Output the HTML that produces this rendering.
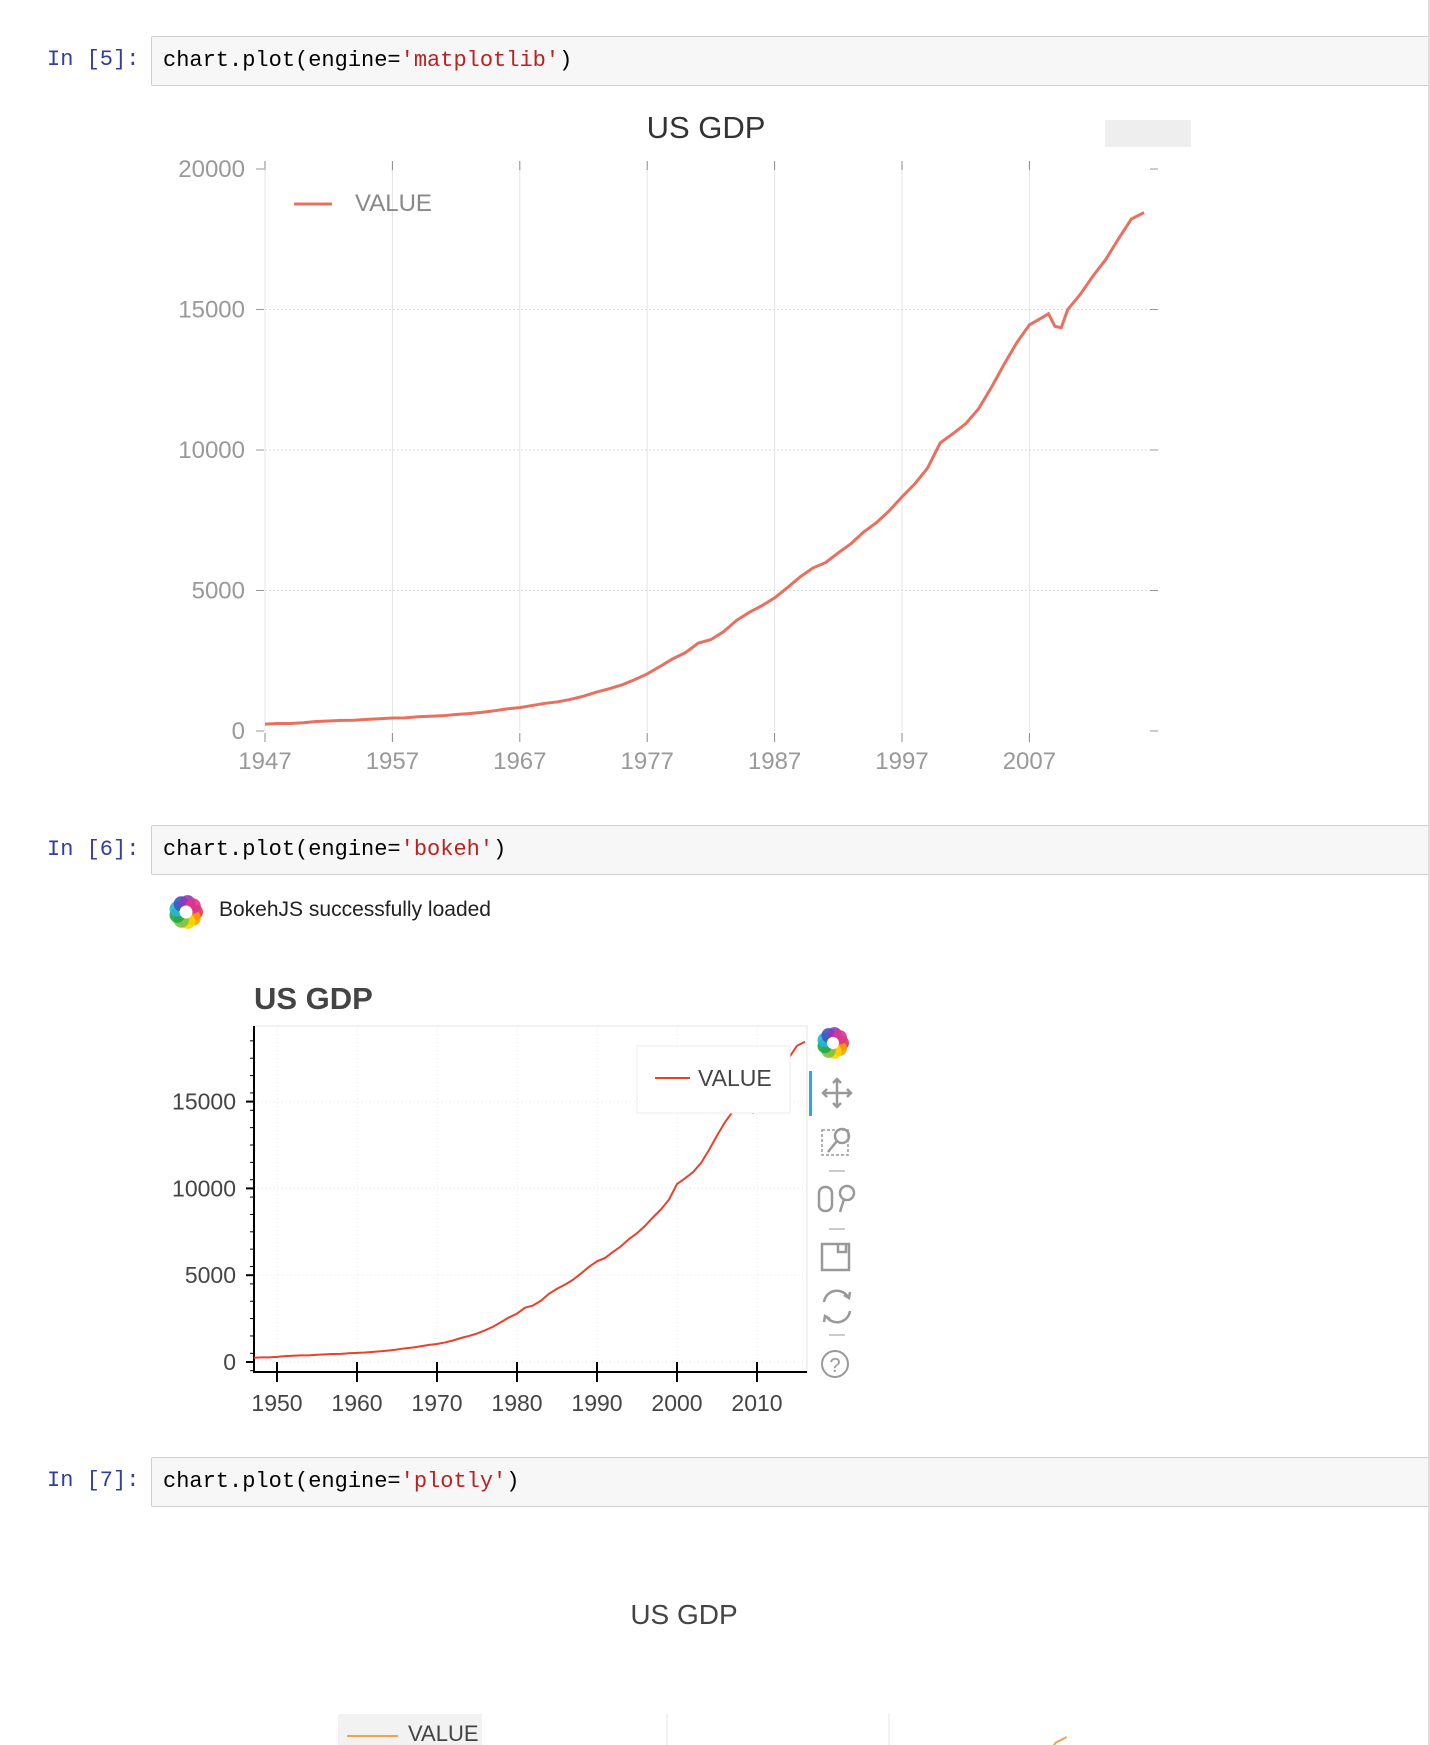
<!DOCTYPE html>
<html><head><meta charset="utf-8">
<style>
html,body{margin:0;width:1430px;height:1745px;overflow:hidden}
body{background:#fff;font-family:"Liberation Sans",sans-serif;position:relative}
.prompt{position:absolute;left:47px;font-family:"Liberation Mono",monospace;font-size:22px;color:#303f9f}
.inbox{position:absolute;left:151px;width:1279px;height:50px;border:1px solid #cfcfcf;background:#f7f7f7;border-radius:2px;box-sizing:border-box;font-family:"Liberation Mono",monospace;font-size:22px;line-height:48px;padding-left:11px;color:#000;overflow:hidden}
.str{color:#ba2121}
svg{position:absolute;left:0;top:0;overflow:hidden}
#plwrap{position:absolute;left:0;top:1714px;width:1428px;height:31px;overflow:hidden}
</style></head>
<body>
<div class="prompt" style="top:47px">In [5]:</div>
<div class="inbox" style="top:36px">chart.plot(engine=<span class="str">'matplotlib'</span>)</div>
<div class="prompt" style="top:837px">In [6]:</div>
<div class="inbox" style="top:825px">chart.plot(engine=<span class="str">'bokeh'</span>)</div>
<div class="prompt" style="top:1468px">In [7]:</div>
<div class="inbox" style="top:1457px">chart.plot(engine=<span class="str">'plotly'</span>)</div>
<div style="position:absolute;left:219px;top:898px;font-size:21px;color:#222">BokehJS successfully loaded</div>
<div style="position:absolute;left:1428px;top:0;width:2px;height:1745px;background:#ddd"></div>

<svg id="svg" width="1430" height="1745"></svg>
<div id="plwrap"><svg id="plsvg" width="1428" height="31"></svg></div>

<script>
const years=[1947,1948,1949,1950,1951,1952,1953,1954,1955,1956,1957,1958,1959,1960,1961,1962,1963,1964,1965,1966,1967,1968,1969,1970,1971,1972,1973,1974,1975,1976,1977,1978,1979,1980,1981,1982,1983,1984,1985,1986,1987,1988,1989,1990,1991,1992,1993,1994,1995,1996,1997,1998,1999,2000,2001,2002,2003,2004,2005,2006,2007,2008,2008.5,2009,2009.5,2010,2011,2012,2013,2014,2015,2016];
const gdp=[244,269,267,294,339,358,380,381,415,438,461,467,507,527,545,586,618,664,719,788,833,910,985,1039,1127,1238,1382,1500,1638,1825,2031,2295,2567,2788,3127,3253,3535,3931,4218,4460,4736,5100,5482,5800,5992,6342,6667,7085,7415,7839,8332,8794,9354,10252,10582,10936,11458,12214,13037,13815,14452,14713,14850,14400,14350,14992,15543,16197,16785,17522,18219,18450];
const mplYTicks=[0,5000,10000,15000,20000];
const mplXTicks=[1947,1957,1967,1977,1987,1997,2007];
const bkYTicks=[0,5000,10000,15000];
const bkXTicks=[1950,1960,1970,1980,1990,2000,2010];

const svg=document.getElementById('svg');
const plsvg=document.getElementById('plsvg');
const NS='http://www.w3.org/2000/svg';
function mk(tag,attrs,parent){const e=document.createElementNS(NS,tag);for(const k in attrs)e.setAttribute(k,attrs[k]);(parent||svg).appendChild(e);return e;}
function txt(s,attrs,parent){const e=mk('text',attrs,parent);e.textContent=s;return e;}

// ---------- matplotlib ----------
const mx=y=>265+(y-1947)*12.74, my=v=>731-v*0.02810;
let g=mk('g',{});


let t=txt('US GDP',{x:706,y:138,'text-anchor':'middle','font-size':31,fill:'#333'},g);

let r=mk('rect',{x:1105,y:120,width:86,height:27,fill:'#eee'},g);

mplYTicks.forEach(v=>{
  if(v>0&&v<20000){let l=mk('line',{x1:265,x2:1154,y1:my(v),y2:my(v),stroke:'#ddd','stroke-dasharray':'2,2'},g);}
  mk('line',{x1:256,x2:264,y1:my(v),y2:my(v),stroke:'#999'},g);
  mk('line',{x1:1150,x2:1158,y1:my(v),y2:my(v),stroke:'#999'},g);
  let tl=txt(String(v),{x:245,y:my(v)+8,'text-anchor':'end','font-size':24,fill:'#999'},g);
  
});
mplXTicks.forEach(y=>{
  let l=mk('line',{x1:mx(y),x2:mx(y),y1:my(20000),y2:my(0),stroke:'#e4e4e4'},g);
  
  mk('line',{x1:mx(y),x2:mx(y),y1:161,y2:170,stroke:'#888'},g);
  mk('line',{x1:mx(y),x2:mx(y),y1:733,y2:742,stroke:'#888'},g);
  let tl=txt(String(y),{x:mx(y),y:769,'text-anchor':'middle','font-size':24,fill:'#999'},g);
  
});
let p=mk('polyline',{points:years.map((y,i)=>mx(y)+','+my(gdp[i])).join(' '),fill:'none',stroke:'#e8705e','stroke-width':3},g);

mk('line',{x1:294,x2:332,y1:204,y2:204,stroke:'#e8705e','stroke-width':3},g);
t=txt('VALUE',{x:355,y:211,'font-size':24,fill:'#888'},g);


// ---------- bokeh ----------
const bx=y=>277+(y-1950)*8.0, by=v=>1362-v*0.01736;
g=mk('g',{});


function logo(cx,cy,R){const cols=['#e63946','#f4a100','#ffd400','#7cc242','#1fa64a','#23b7d6','#3a56c5','#8e3ab8','#e0338e'];
  cols.forEach((c,i)=>{const a=i/cols.length*2*Math.PI;mk('circle',{cx:cx+R*0.55*Math.cos(a),cy:cy+R*0.55*Math.sin(a),r:R*0.45,fill:c,opacity:0.9},g);});
  mk('circle',{cx:cx,cy:cy,r:R*0.38,fill:'#fff'},g);}
logo(186,912,17);
t=txt('US GDP',{x:254,y:1009,'font-size':31,'font-weight':'bold',fill:'#444'},g);

mk('rect',{x:254,y:1026,width:553,height:346,fill:'none',stroke:'#e5e5e5'},g);
bkYTicks.forEach(v=>{
  let l=mk('line',{x1:254,x2:807,y1:by(v),y2:by(v),stroke:'#e5e5e5','stroke-dasharray':'1,3'},g);
  mk('line',{x1:246,x2:254,y1:by(v),y2:by(v),stroke:'#000','stroke-width':2},g);
  let tl=txt(String(v),{x:236,y:by(v)+8,'text-anchor':'end','font-size':23,fill:'#444'},g);
  
});
for(let v=-500;v<=19000;v+=1000){if(by(v)<1372&&by(v)>1026)mk('line',{x1:250,x2:254,y1:by(v),y2:by(v),stroke:'#000'},g);}
bkXTicks.forEach(y=>{
  let l=mk('line',{x1:bx(y),x2:bx(y),y1:1026,y2:1372,stroke:'#e5e5e5','stroke-dasharray':'1,3'},g);
  mk('line',{x1:bx(y),x2:bx(y),y1:1362,y2:1382,stroke:'#000','stroke-width':2},g);
  let tl=txt(String(y),{x:bx(y),y:1411,'text-anchor':'middle','font-size':23,fill:'#444'},g);
  
});
mk('line',{x1:254,x2:254,y1:1026,y2:1373,stroke:'#000','stroke-width':2},g);
mk('line',{x1:253,x2:807,y1:1372,y2:1372,stroke:'#000','stroke-width':2},g);
const cp=mk('clipPath',{id:'bkclip'},g);
mk('rect',{x:254,y:1026,width:553,height:346},cp);
p=mk('polyline',{points:years.map((y,i)=>bx(y)+','+by(gdp[i])).join(' '),fill:'none',stroke:'#e8412c','stroke-width':2,'clip-path':'url(#bkclip)'},g);

r=mk('rect',{x:637,y:1046,width:153,height:67,fill:'#fff',stroke:'#eee'},g);

mk('line',{x1:655,x2:690,y1:1078,y2:1078,stroke:'#e8412c','stroke-width':2},g);
txt('VALUE',{x:698,y:1086,'font-size':23,fill:'#444'},g);
logo(833,1043,16);
mk('rect',{x:809,y:1071,width:3,height:45,fill:'#26aae1'},g);
const ic='#999';
let tb=mk('g',{stroke:ic,fill:'none','stroke-width':2.5},g);

mk('path',{d:'M823 1093 H851 M837 1079 V1107 M827 1089 l-4 4 4 4 M847 1089 l4 4 -4 4 M833 1083 l4 -4 4 4 M833 1103 l4 4 4 -4'},tb);
mk('rect',{x:822,y:1130,width:26,height:25,'stroke-dasharray':'3,2','stroke-width':1.5},tb);
mk('circle',{cx:842,cy:1136,r:7},tb);mk('line',{x1:837,y1:1141,x2:828,y2:1152},tb);
mk('line',{x1:829,y1:1171,x2:845,y2:1171,'stroke-width':1},tb);
mk('rect',{x:819,y:1187,width:13,height:24,rx:6},tb);mk('circle',{cx:847,cy:1193,r:7},tb);mk('line',{x1:844,y1:1199,x2:840,y2:1212},tb);
mk('line',{x1:829,y1:1229,x2:845,y2:1229,'stroke-width':1},tb);
mk('path',{d:'M822 1244 H849 V1270 H822 Z M838 1244 V1252 H846 V1244'},tb);
mk('path',{d:'M824 1302 a13 13 0 0 1 24 -5 M850 1311 a13 13 0 0 1 -24 5 M844 1295 l5 3 1 -6 M830 1319 l-5 -3 -1 6'},tb);
mk('line',{x1:829,y1:1335,x2:845,y2:1335,'stroke-width':1},tb);
mk('circle',{cx:835,cy:1364,r:13,'stroke-width':2},tb);
txt('?',{x:835,y:1372,'text-anchor':'middle','font-size':20,fill:ic,stroke:'none'},tb);

// ---------- plotly ----------
t=txt('US GDP',{x:684,y:1624,'text-anchor':'middle','font-size':28,fill:'#444'});

// local coords inside plwrap (top = 1714)
const px=y=>667+(y-1980)*11.1, py=v=>(19370-v)*0.025;
g=mk('g',{},plsvg);


[1980,2000].forEach(y=>{let l=mk('line',{x1:px(y),x2:px(y),y1:0,y2:31,stroke:'#e5e5e5'},g);});
r=mk('rect',{x:338,y:0,width:144,height:31,fill:'#f2f2f2'},g);

mk('line',{x1:347,x2:398,y1:22,y2:22,stroke:'#f5a04a','stroke-width':2},g);
t=txt('VALUE',{x:408,y:27,'font-size':22,fill:'#444'},g);

p=mk('polyline',{points:years.map((y,i)=>px(y)+','+py(gdp[i])).join(' '),fill:'none',stroke:'#f5a04a','stroke-width':2},g);

</script>
</body></html>
